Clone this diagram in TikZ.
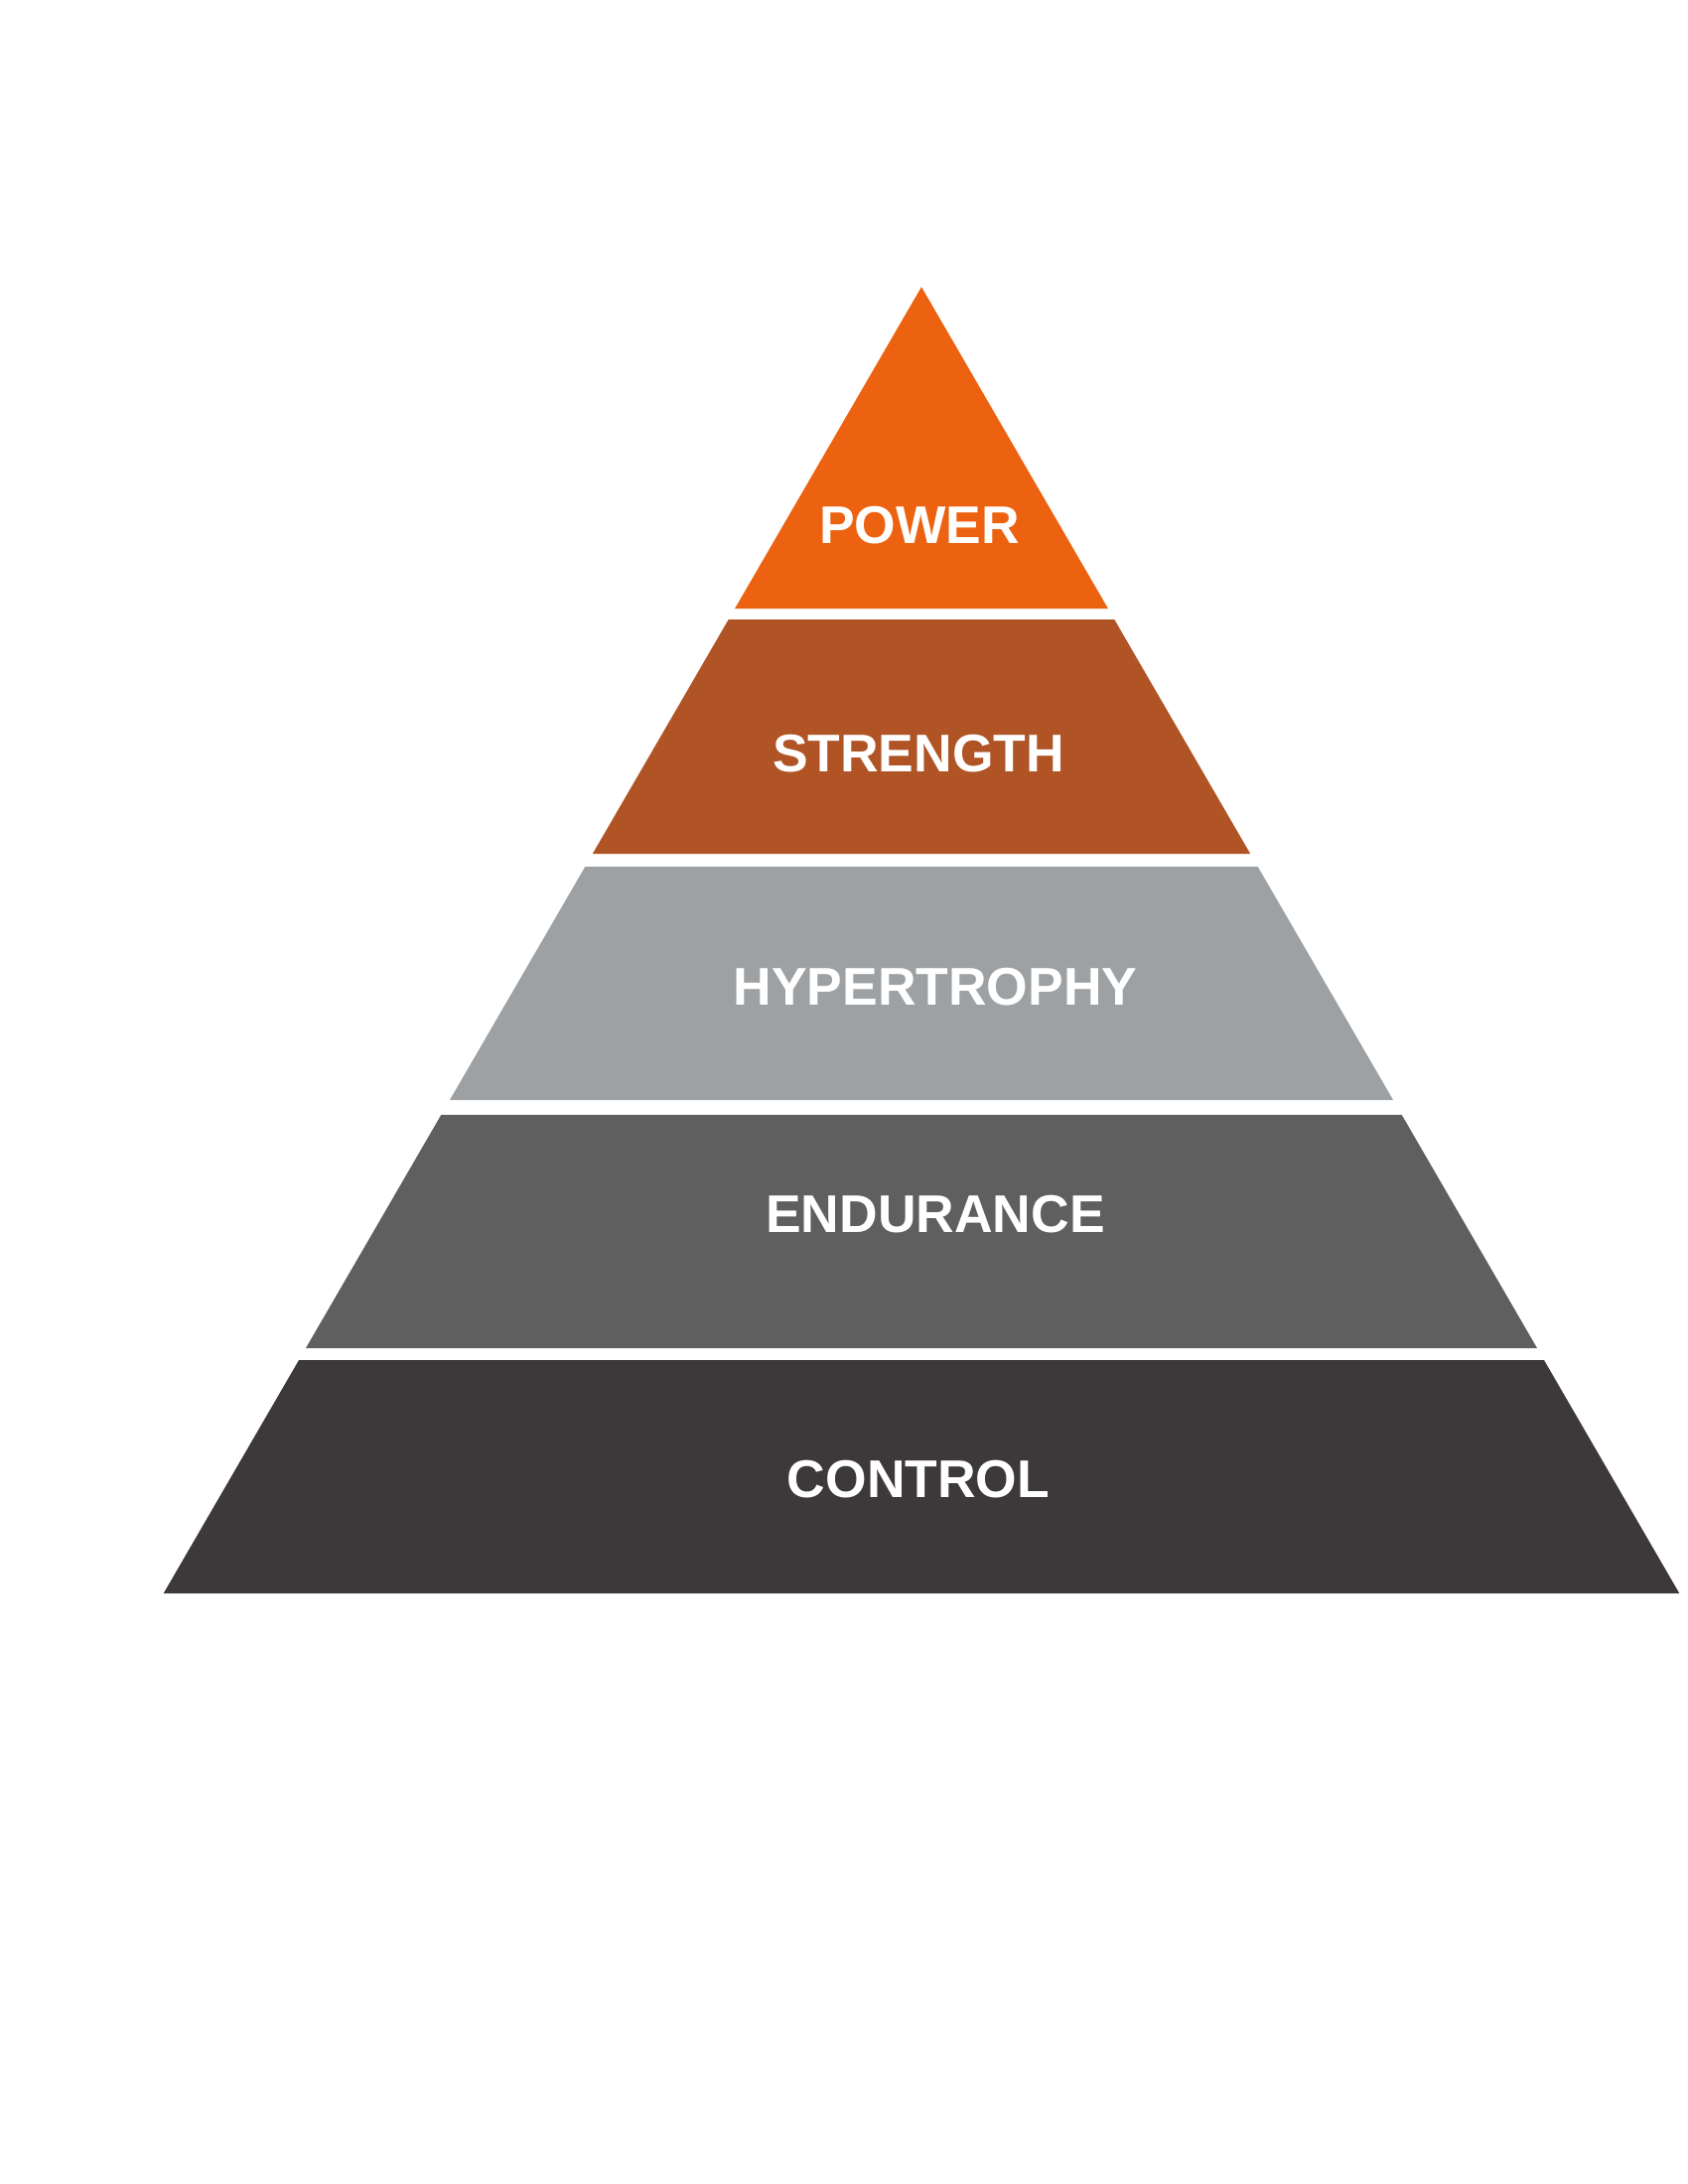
\documentclass[tikz,border=0pt]{standalone}
\usepackage{fontspec}
\setmainfont{Liberation Sans}[BoldFont={Liberation Sans Bold}]

\definecolor{powerorange}{HTML}{EC6210}
\definecolor{strengthbrown}{HTML}{B05426}
\definecolor{hypergrey}{HTML}{9EA1A3}
\definecolor{endurancegrey}{HTML}{5F5F5F}
\definecolor{controlgrey}{HTML}{3D393A}

\begin{document}
\begin{tikzpicture}[x=0.01cm,y=-0.01cm,
    layertext/.style={text=white,font=\bfseries\fontsize{15.2}{18}\selectfont,
                      anchor=base,inner sep=0pt}]
\useasboundingbox (0,0) rectangle (1700,2200);
% one band of the pyramid per entry: top/bottom/colour/name/text/text x/baseline
\foreach \ya/\yb/\col/\id/\word/\tx/\ty in {
    289/613/powerorange/power/POWER/926/547,
    624/860/strengthbrown/strength/STRENGTH/925/777,
    873/1108/hypergrey/hypertrophy/HYPERTROPHY/942/1012,
    1123/1358/endurancegrey/endurance/ENDURANCE/942/1241,
    1370/1605/controlgrey/control/CONTROL/925/1508}{
  \pgfmathsetmacro\wa{0.58*(\ya-289)}
  \pgfmathsetmacro\wb{0.58*(\yb-289)}
  \fill[\col] (928-\wa,\ya) -- (928+\wa,\ya) -- (928+\wb,\yb) -- (928-\wb,\yb) -- cycle;
  \node[layertext] (\id) at (\tx,\ty) {\word};
}
\end{tikzpicture}
\end{document}
